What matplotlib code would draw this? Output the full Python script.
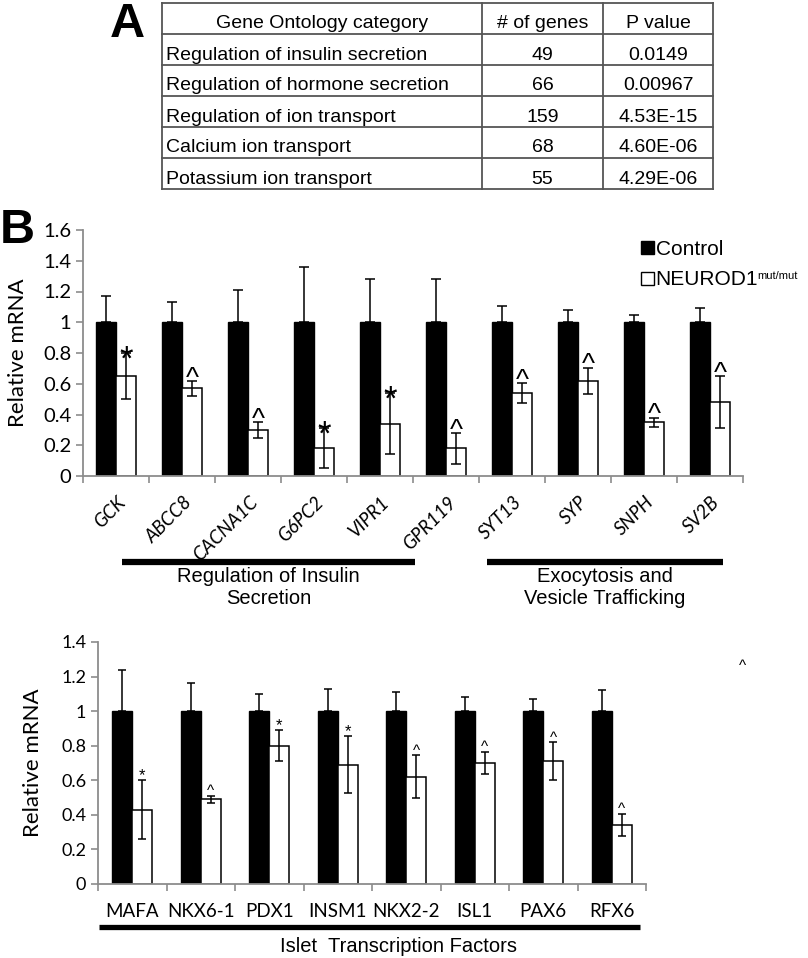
import numpy as np
import matplotlib
matplotlib.use("Agg")
import matplotlib.pyplot as plt
import matplotlib.transforms as mtransforms
from matplotlib.patches import Patch

# tabla del panel A
go_encabezado = ["Gene Ontology category", "# of genes", "P value"]
go_categorias = ["Regulation of insulin secretion", "Regulation of hormone secretion",
                 "Regulation of ion transport", "Calcium ion transport",
                 "Potassium ion transport"]
go_genes = ["49", "66", "159", "68", "55"]
go_pvalor = ["0.0149", "0.00967", "4.53E-15", "4.60E-06", "4.29E-06"]

# panel B, grafico de arriba
genes_arriba = ["GCK", "ABCC8", "CACNA1C", "G6PC2", "VIPR1", "GPR119",
                "SYT13", "SYP", "SNPH", "SV2B"]
control_arriba = [1.0, 1.0, 1.0, 1.0, 1.0, 1.0, 1.0, 1.0, 1.0, 1.0]
control_err_arriba = [0.17, 0.13, 0.21, 0.36, 0.28, 0.28, 0.105, 0.08, 0.045, 0.09]
mut_arriba = [0.65, 0.57, 0.30, 0.18, 0.34, 0.18, 0.54, 0.62, 0.35, 0.48]
mut_err_arriba = [0.15, 0.05, 0.05, 0.13, 0.20, 0.10, 0.066, 0.085, 0.03, 0.17]
sig_arriba = ["*", "^", "^", "*", "*", "^", "^", "^", "^", "^"]

# panel B, grafico de abajo
genes_abajo = ["MAFA", "NKX6-1", "PDX1", "INSM1", "NKX2-2", "ISL1", "PAX6", "RFX6"]
control_abajo = [1.0, 1.0, 1.0, 1.0, 1.0, 1.0, 1.0, 1.0]
control_err_abajo = [0.24, 0.165, 0.10, 0.13, 0.11, 0.08, 0.07, 0.12]
mut_abajo = [0.43, 0.49, 0.80, 0.69, 0.62, 0.70, 0.71, 0.34]
mut_err_abajo = [0.17, 0.02, 0.09, 0.165, 0.125, 0.065, 0.11, 0.065]
sig_abajo = ["*", "^", "*", "*", "^", "^", "^", "^"]

CALIBRI = ["Lato", "DejaVu Sans"]
ARIAL = ["Liberation Sans", "DejaVu Sans"]
GRIS = "#8c8c8c"

fig = plt.figure(figsize=(8.08, 9.58), dpi=100)


def px(x, y):
    """pixeles de la imagen -> fraccion de figura"""
    return x / 808, 1 - y / 958


def dibujar_barras(ax, ctrl, ctrl_err, mut, mut_err, sig, ancho, capsize,
                   ymax, fs_ticks, fs_sig, dy_sig):
    n = len(ctrl)
    x = np.arange(n)
    ax.bar(x - ancho / 2, ctrl, ancho, color="black", edgecolor="black", linewidth=1, zorder=2)
    ax.bar(x + ancho / 2, mut, ancho, color="white", edgecolor="black", linewidth=1.1, zorder=2)
    ax.errorbar(x - ancho / 2, ctrl, yerr=[np.zeros(n), ctrl_err], fmt="none",
                ecolor="black", elinewidth=1.1, capsize=capsize, capthick=1.1, zorder=3)
    ax.errorbar(x + ancho / 2, mut, yerr=mut_err, fmt="none",
                ecolor="black", elinewidth=1.1, capsize=capsize, capthick=1.1, zorder=3)
    for i in range(n):
        ax.annotate(sig[i], xy=(x[i] + ancho / 2, mut[i] + mut_err[i]),
                    xytext=(0, dy_sig[sig[i]]), textcoords="offset points",
                    ha="center", va="baseline", fontsize=fs_sig[sig[i]],
                    family=ARIAL, annotation_clip=False)
    ax.set_xlim(-0.5, n - 0.5)
    ax.set_ylim(0, ymax)
    ax.set_xticks(np.arange(n + 1) - 0.5)
    ax.set_xticklabels([])
    ticks = np.arange(0, ymax + 0.01, 0.2).round(1)
    ax.set_yticks(ticks)
    ax.set_yticklabels([f"{v:g}" for v in ticks], family=CALIBRI, fontsize=fs_ticks)
    ax.tick_params(axis="both", length=5, width=1.2, color=GRIS)
    for s in ["top", "right"]:
        ax.spines[s].set_visible(False)
    for s in ["left", "bottom"]:
        ax.spines[s].set_color(GRIS)
        ax.spines[s].set_linewidth(1.3)
    ax.set_ylabel("Relative mRNA", family=CALIBRI, fontsize=16)


# ---- panel A: tabla ----
x0, y0 = px(162, 189)
x1, y1 = px(713, 3)
tab = fig.add_axes([x0, y0, x1 - x0, y1 - y0])
tab.set_xlim(0, 551)
tab.set_ylim(186, 0)
tab.axis("off")
filas = np.linspace(0, 186, 7)
columnas = [0, 320, 441, 551]
for yy in filas:
    tab.plot([0, 551], [yy, yy], color="#555555", lw=1.3, clip_on=False)
for xx in columnas:
    tab.plot([xx, xx], [0, 186], color="#555555", lw=1.3, clip_on=False)
centros = [(columnas[k] + columnas[k + 1]) / 2 for k in range(3)]
for k, t in enumerate(go_encabezado):
    tab.text(centros[k], filas[0] + 25, t, ha="center", va="baseline", family=ARIAL, fontsize=14)
for r in range(5):
    yb = filas[r + 1] + 25.5
    tab.text(4, yb, go_categorias[r], ha="left", va="baseline", family=ARIAL, fontsize=14)
    tab.text(centros[1], yb, go_genes[r], ha="center", va="baseline", family=ARIAL, fontsize=14)
    tab.text(centros[2], yb, go_pvalor[r], ha="center", va="baseline", family=ARIAL, fontsize=14)

fig.text(*px(110, 37), "A", family=ARIAL, weight="bold", fontsize=35, ha="left", va="baseline")
fig.text(*px(0, 243), "B", family=ARIAL, weight="bold", fontsize=35, ha="left", va="baseline")

# ---- panel B arriba ----
l, b = px(83, 476)
r, t = px(743, 230)
ax1 = fig.add_axes([l, b, r - l, t - b])
dibujar_barras(ax1, control_arriba, control_err_arriba, mut_arriba, mut_err_arriba,
               sig_arriba, 0.30, 3.6, 1.6, 14.5,
               fs_sig={"*": 25, "^": 20}, dy_sig={"*": -12, "^": -3.5})
ax1.yaxis.set_label_coords(-0.083, 0.5)

off = mtransforms.ScaledTranslation(0.07, 0, fig.dpi_scale_trans)
tr1 = mtransforms.blended_transform_factory(ax1.transData, ax1.transAxes) + off
for i, g in enumerate(genes_arriba):
    ax1.text(i, -0.095, g, transform=tr1, rotation=45, ha="right", va="center",
             rotation_mode="anchor", style="italic", family=CALIBRI, fontsize=13.5)

tr1b = mtransforms.blended_transform_factory(ax1.transData, ax1.transAxes)
for (xa, xb), etiqueta in [((0.09, 4.53), "Regulation of Insulin\nSecretion"),
                           ((5.62, 9.20), "Exocytosis and\nVesicle Trafficking")]:
    ax1.plot([xa, xb], [-0.3496, -0.3496], color="black", lw=4.5, transform=tr1b,
             clip_on=False, solid_capstyle="butt")
    ax1.text((xa + xb) / 2, -0.453, etiqueta, transform=tr1b, ha="center", va="center",
             family=ARIAL, fontsize=14.5, linespacing=1.2)

manijas = [Patch(facecolor="black", edgecolor="black"),
           Patch(facecolor="white", edgecolor="black", linewidth=1)]
fig.legend(manijas, ["Control", "NEUROD1"],
           loc="upper left", bbox_to_anchor=px(641, 240), frameon=False,
           prop={"family": ARIAL, "size": 15}, handlelength=0.6, handleheight=0.6,
           handletextpad=0.1, labelspacing=0.55, borderpad=0, borderaxespad=0)
fig.text(*px(757, 279), "mut/mut", family=ARIAL, fontsize=8, ha="left", va="baseline")

# ---- panel B abajo ----
l, b = px(98, 884)
r, t = px(646, 642)
ax2 = fig.add_axes([l, b, r - l, t - b])
dibujar_barras(ax2, control_abajo, control_err_abajo, mut_abajo, mut_err_abajo,
               sig_abajo, 0.29, 3.0, 1.4, 13,
               fs_sig={"*": 12, "^": 11}, dy_sig={"*": 0, "^": 0.5})
ax2.yaxis.set_label_coords(-0.100, 0.5)

tr2 = mtransforms.blended_transform_factory(ax2.transData, ax2.transAxes)
for i, g in enumerate(genes_abajo):
    ax2.text(i, -0.1157, g, transform=tr2, ha="center", va="center",
             family=CALIBRI, fontsize=13.5)
ax2.plot([-0.485, 7.41], [-0.178, -0.178], color="black", lw=3.8, transform=tr2,
         clip_on=False, solid_capstyle="butt")
ax2.text(3.89, -0.26, "Islet  Transcription Factors", transform=tr2, ha="center",
         va="center", family=ARIAL, fontsize=14.5)

# signo suelto a la derecha
fig.text(*px(742, 670), "^", family=ARIAL, fontsize=11, ha="center", va="baseline")

fig.savefig("out.png", dpi=100)
